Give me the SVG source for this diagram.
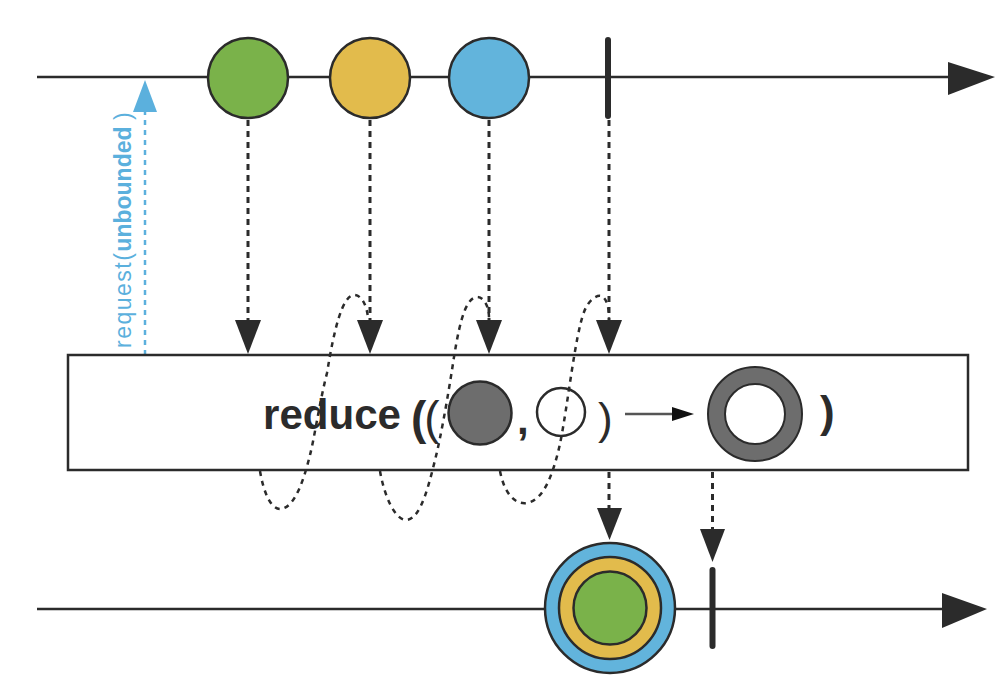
<svg xmlns="http://www.w3.org/2000/svg" width="1004" height="690" viewBox="0 0 1004 690">
<defs>
<style>
.axis{stroke:#2b2b2b;stroke-width:2.5;fill:none}
.head{fill:#2b2b2b}
.term{stroke:#2b2b2b;stroke-width:6;stroke-linecap:round}
.dash{stroke:#2b2b2b;stroke-width:3;stroke-dasharray:6 5;fill:none}
.curve{stroke:#2b2b2b;stroke-width:2.5;stroke-dasharray:5 5;fill:none}
.marble{stroke:#2b2b2b;stroke-width:2.5}
.req{stroke:#5bb0dd;stroke-width:2.5;stroke-dasharray:5 5;fill:none}
.op{font-family:"Liberation Sans",Arial,sans-serif;fill:#2b2b2b}
</style>
</defs>
<rect width="1004" height="690" fill="#ffffff"/>

<g id="source-timeline">
<line class="axis" x1="37" y1="77" x2="952" y2="77"/>
<polygon class="head" points="948,62 995,77 948,95"/>
</g>
<g id="marble-green"><circle class="marble" cx="248" cy="78" r="40" fill="#7ab24a"/></g>
<g id="marble-yellow"><circle class="marble" cx="370" cy="78" r="40" fill="#e2bb4c"/></g>
<g id="marble-blue"><circle class="marble" cx="489" cy="78" r="40" fill="#62b4dc"/></g>
<g id="source-complete"><line class="term" x1="608" y1="40" x2="608" y2="116"/></g>

<g id="request">
<line class="req" x1="145" y1="355" x2="145" y2="112"/>
<polygon fill="#5bb0dd" points="133,112 157,112 145,80"/>
<text transform="translate(131,348) rotate(-90)" font-size="23" fill="#5bb0dd" font-family="'Liberation Sans',Arial,sans-serif"><tspan letter-spacing="1.5">request(</tspan><tspan font-weight="bold">unbounded</tspan><tspan> )</tspan></text>
</g>

<g id="operator">
<rect x="68" y="355" width="900" height="115" fill="#ffffff" stroke="#2b2b2b" stroke-width="2.5"/>
<text class="op" x="263" y="429" font-size="42" font-weight="bold" textLength="138" lengthAdjust="spacingAndGlyphs">reduce</text>
<text class="op" x="411" y="434" font-size="46" font-weight="bold">(<tspan font-weight="normal" dx="-2">(</tspan></text>
<circle class="marble" cx="480" cy="413" r="31.5" fill="#6d6d6d"/>
<text class="op" x="517" y="434" font-size="42" font-weight="bold">,</text>
<circle class="marble" cx="561" cy="412" r="24" fill="#ffffff"/>
<text class="op" x="598" y="434" font-size="44">)</text>
<line x1="625" y1="414" x2="676" y2="414" stroke="#555555" stroke-width="2.5"/>
<polygon fill="#111111" points="672,407 694,414 672,421"/>
<circle cx="755" cy="414" r="38.5" fill="none" stroke="#6d6d6d" stroke-width="17"/>
<circle cx="755" cy="414" r="47" fill="none" stroke="#2b2b2b" stroke-width="2"/>
<circle cx="755" cy="414" r="30" fill="#ffffff" stroke="#2b2b2b" stroke-width="2"/>
<text class="op" x="820" y="427" font-size="44" font-weight="bold">)</text>
</g>

<g id="connectors">
<line class="dash" x1="248" y1="120" x2="248" y2="320"/>
<polygon class="head" points="235,320 261,320 248,354"/>
<line class="dash" x1="370" y1="120" x2="370" y2="320"/>
<polygon class="head" points="357,320 383,320 370,354"/>
<line class="dash" x1="489" y1="120" x2="489" y2="320"/>
<polygon class="head" points="476,320 502,320 489,354"/>
<line class="dash" x1="609" y1="120" x2="609" y2="320"/>
<polygon class="head" points="596,320 622,320 609,354"/>
<path class="curve" d="M260,471 C264,495 272,510 281,509 C296,507 305,475 310,455 C314,440 320,400 327,373 C334,330 342,296 354,295 C362,295 367,306 368,318"/>
<path class="curve" d="M380,471 C384,495 395,521 407,520 C422,518 430,480 437,452 C443,425 448,395 452,370 C458,330 464,298 477,297 C485,297 489,308 489,318"/>
<path class="curve" d="M500,471 C504,492 514,505 527,503 C545,500 554,470 560,444 C568,404 575,336 584,312 C589,299 597,295 601,296 C607,298 609,308 609,318"/>
<line class="dash" x1="609" y1="472" x2="609" y2="508"/>
<polygon class="head" points="597,508 622,508 609.5,540"/>
<line class="dash" x1="712.5" y1="472" x2="712.5" y2="529"/>
<polygon class="head" points="700,529 725,529 712.5,562"/>
</g>

<g id="result-timeline">
<line class="axis" x1="37" y1="609" x2="946" y2="609"/>
<polygon class="head" points="942,593 987,609 942,628"/>
</g>
<g id="result-marble">
<circle class="marble" cx="610" cy="608" r="65" fill="#62b4dc"/>
<circle class="marble" cx="610" cy="608" r="51" fill="#e2bb4c"/>
<circle class="marble" cx="610" cy="608" r="36.5" fill="#7ab24a"/>
</g>
<g id="result-complete"><line class="term" x1="712.5" y1="570" x2="712.5" y2="646"/></g>
</svg>
